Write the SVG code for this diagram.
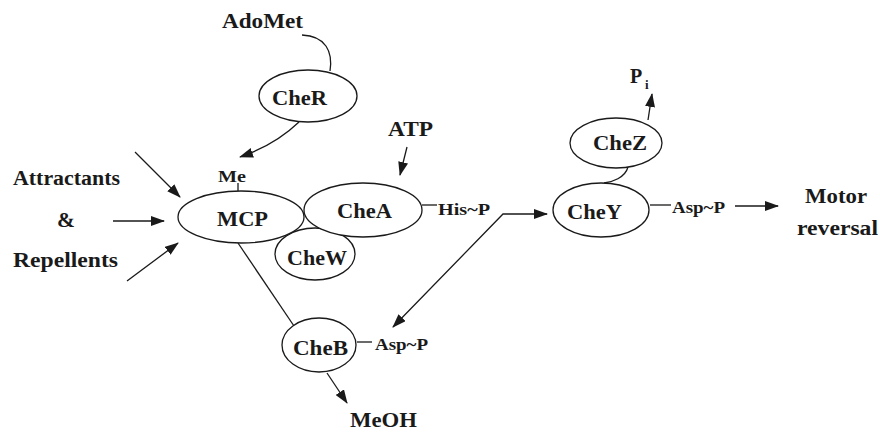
<svg xmlns="http://www.w3.org/2000/svg" width="880" height="432" viewBox="0 0 880 432">
<style>
text{font-family:"Liberation Serif","Times New Roman",serif;font-weight:bold;fill:#1a1a1a}
.big{font-size:20px}
.sm{font-size:16px}
ellipse{fill:#fff;stroke:#1a1a1a;stroke-width:1.3}
.c path{fill:none;stroke:#1a1a1a;stroke-width:1.3}
</style>
<defs>
<marker id="ah" viewBox="0 0 14 10" refX="13" refY="5" markerWidth="14" markerHeight="10" markerUnits="userSpaceOnUse" orient="auto-start-reverse">
<path d="M0,0 L14,5 L0,10 z" fill="#1a1a1a"/>
</marker>
</defs>
<rect width="880" height="432" fill="#fff"/>
<g class="c" id="connectors">
<path d="M302,35 C326,36 333,52 330,71"/>
<path d="M299,122 Q275,145 240,157" marker-end="url(#ah)"/>
<path d="M407,147 L400,175" marker-end="url(#ah)"/>
<path d="M135,152 L180,197" marker-end="url(#ah)"/>
<path d="M113,221 L164,221" marker-end="url(#ah)"/>
<path d="M127,281 L178,243" marker-end="url(#ah)"/>
<path d="M238,183 L238,191"/>
<path d="M238,243 L294,326"/>
<path d="M422,205 L437,205"/>
<path d="M393,327 L503,214 L547,214" marker-start="url(#ah)" marker-end="url(#ah)"/>
<path d="M628,167 C625,178 612,182 604,183"/>
<path d="M648,120 L652,94" marker-end="url(#ah)"/>
<path d="M650,205 L671,205"/>
<path d="M735,206 L778,206" marker-end="url(#ah)"/>
<path d="M357,342 L372,342"/>
<path d="M327,373 L347,403" marker-end="url(#ah)"/>
</g>
<g id="CheW"><ellipse cx="315" cy="254" rx="40" ry="26"/><text class="big" x="287" y="265" textLength="60" lengthAdjust="spacingAndGlyphs">CheW</text></g>
<g id="MCP"><ellipse cx="241" cy="217" rx="63" ry="26"/><text class="big" x="217" y="226" textLength="51" lengthAdjust="spacingAndGlyphs">MCP</text></g>
<g id="CheA"><ellipse cx="363" cy="210" rx="59" ry="27"/><text class="big" x="337" y="218" textLength="55" lengthAdjust="spacingAndGlyphs">CheA</text></g>
<g id="CheR"><ellipse cx="308" cy="96" rx="49" ry="26"/><text class="big" x="272" y="105" textLength="55" lengthAdjust="spacingAndGlyphs">CheR</text></g>
<g id="CheB"><ellipse cx="319" cy="345" rx="37" ry="27"/><text class="big" x="293" y="355" textLength="55" lengthAdjust="spacingAndGlyphs">CheB</text></g>
<g id="CheY"><ellipse cx="601" cy="210" rx="48" ry="27"/><text class="big" x="567" y="219" textLength="55" lengthAdjust="spacingAndGlyphs">CheY</text></g>
<g id="CheZ"><ellipse cx="616" cy="143" rx="46" ry="25"/><text class="big" x="593" y="150" textLength="54" lengthAdjust="spacingAndGlyphs">CheZ</text></g>
<g id="AdoMet"><text class="big" x="222" y="28" textLength="81" lengthAdjust="spacingAndGlyphs">AdoMet</text></g>
<g id="ATP"><text class="big" x="388" y="136" textLength="45" lengthAdjust="spacingAndGlyphs">ATP</text></g>
<g id="Attractants"><text class="big" x="13" y="185" textLength="107" lengthAdjust="spacingAndGlyphs">Attractants</text></g>
<g id="amp"><text class="big" x="57" y="227" textLength="18" lengthAdjust="spacingAndGlyphs">&amp;</text></g>
<g id="Repellents"><text class="big" x="13" y="267" textLength="105" lengthAdjust="spacingAndGlyphs">Repellents</text></g>
<g id="Me"><text class="sm" x="218" y="182" textLength="28" lengthAdjust="spacingAndGlyphs">Me</text></g>
<g id="HisP"><text class="sm" x="438" y="215" textLength="52" lengthAdjust="spacingAndGlyphs">His~P</text></g>
<g id="AspP1"><text class="sm" x="672" y="213" textLength="53" lengthAdjust="spacingAndGlyphs">Asp~P</text></g>
<g id="AspP2"><text class="sm" x="375" y="350" textLength="53" lengthAdjust="spacingAndGlyphs">Asp~P</text></g>
<g id="Pi"><text class="big" x="630" y="83">P</text><text x="645" y="89" style="font-size:13px">i</text></g>
<g id="Motor"><text class="big" x="805" y="203" textLength="62" lengthAdjust="spacingAndGlyphs">Motor</text><text class="big" x="797" y="235" textLength="81" lengthAdjust="spacingAndGlyphs">reversal</text></g>
<g id="MeOH"><text class="big" x="350" y="427" textLength="67" lengthAdjust="spacingAndGlyphs">MeOH</text></g>
</svg>
